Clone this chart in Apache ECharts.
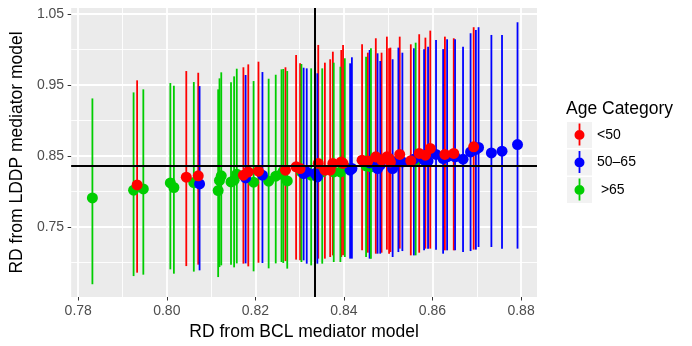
<!DOCTYPE html>
<html>
<head>
<meta charset="utf-8">
<script src="https://cdn.jsdelivr.net/npm/echarts@6/dist/echarts.min.js"></script>
<style>
  html, body { margin: 0; padding: 0; background: #fff; }
  #chart { width: 692px; height: 346px; }
</style>
</head>
<body>
<div id="chart"></div>
<script>
// rows are [x, y, lower, upper]
var under50 = [
    [0.7933, 0.8090, 0.6853, 0.9565], [0.8044, 0.8199, 0.6946, 0.9696],
    [0.8071, 0.8218, 0.6966, 0.9672], [0.8173, 0.8227, 0.6980, 0.9749],
    [0.8184, 0.8274, 0.6942, 0.9790], [0.8207, 0.8284, 0.6993, 0.9828],
    [0.8268, 0.8298, 0.7017, 0.9749], [0.8292, 0.8345, 0.7037, 0.9922],
    [0.8301, 0.8322, 0.7027, 0.9805], [0.8342, 0.8393, 0.7051, 1.0064],
    [0.8357, 0.8298, 0.7051, 0.9814], [0.8369, 0.8298, 0.7074, 0.9862],
    [0.8375, 0.8393, 0.7097, 0.9969], [0.8394, 0.8415, 0.7074, 0.9993],
    [0.8398, 0.8393, 0.7097, 1.0064], [0.8441, 0.8439, 0.7168, 1.0073],
    [0.8454, 0.8427, 0.7135, 0.9955], [0.8472, 0.8486, 0.7121, 1.0158],
    [0.8485, 0.8439, 0.7135, 0.9955], [0.8497, 0.8486, 0.7178, 1.0181],
    [0.8502, 0.8463, 0.7121, 1.0017], [0.8505, 0.8415, 0.7144, 1.0026],
    [0.8526, 0.8520, 0.7192, 1.0181], [0.8551, 0.8431, 0.7097, 1.0073],
    [0.8570, 0.8534, 0.7135, 1.0215], [0.8584, 0.8510, 0.7192, 1.0167],
    [0.8595, 0.8605, 0.7192, 1.0266], [0.8628, 0.8520, 0.7168, 1.0181],
    [0.8648, 0.8534, 0.7168, 1.0158], [0.8693, 0.8627, 0.7178, 1.0314]
];
var from50to65 = [
    [0.8074, 0.8105, 0.6886, 0.9484], [0.8178, 0.8189, 0.6984, 0.9640],
    [0.8216, 0.8227, 0.6989, 0.9682], [0.8309, 0.8251, 0.7027, 0.9743],
    [0.8316, 0.8274, 0.6980, 0.9734], [0.8335, 0.8251, 0.7003, 0.9828],
    [0.8340, 0.8203, 0.6980, 0.9664], [0.8414, 0.8298, 0.7051, 0.9805],
    [0.8418, 0.8322, 0.7051, 0.9890], [0.8458, 0.8401, 0.7051, 0.9993],
    [0.8476, 0.8322, 0.7121, 0.9946], [0.8482, 0.8368, 0.7121, 0.9838],
    [0.8510, 0.8322, 0.7074, 0.9862], [0.8523, 0.8439, 0.7144, 1.0026],
    [0.8532, 0.8415, 0.7158, 0.9955], [0.8558, 0.8453, 0.7097, 1.0017],
    [0.8581, 0.8439, 0.7168, 1.0005], [0.8590, 0.8427, 0.7192, 1.0040],
    [0.8608, 0.8520, 0.7178, 1.0134], [0.8624, 0.8463, 0.7121, 1.0005],
    [0.8633, 0.8486, 0.7168, 1.0144], [0.8651, 0.8486, 0.7168, 1.0144],
    [0.8669, 0.8453, 0.7144, 1.0040], [0.8686, 0.8556, 0.7158, 1.0229],
    [0.8698, 0.8590, 0.7178, 1.0275], [0.8704, 0.8618, 0.7215, 1.0314],
    [0.8733, 0.8542, 0.7215, 1.0205], [0.8757, 0.8566, 0.7192, 1.0205],
    [0.8792, 0.8660, 0.7192, 1.0384]
];
var over65 = [
    [0.7832, 0.7907, 0.6690, 0.9310], [0.7925, 0.8016, 0.6805, 0.9395],
    [0.7947, 0.8034, 0.6825, 0.9438], [0.8008, 0.8119, 0.6900, 0.9527],
    [0.8016, 0.8054, 0.6839, 0.9489], [0.8061, 0.8124, 0.6868, 0.9541],
    [0.8116, 0.8011, 0.6791, 0.9438], [0.8119, 0.8153, 0.6932, 0.9593],
    [0.8123, 0.8218, 0.6956, 0.9678], [0.8145, 0.8133, 0.6966, 0.9537],
    [0.8152, 0.8157, 0.6928, 0.9621], [0.8158, 0.8242, 0.6984, 0.9729],
    [0.8196, 0.8129, 0.6872, 0.9555], [0.8230, 0.8143, 0.6914, 0.9588],
    [0.8246, 0.8213, 0.6984, 0.9644], [0.8259, 0.8242, 0.7003, 0.9720],
    [0.8263, 0.8284, 0.6990, 0.9725], [0.8272, 0.8147, 0.6910, 0.9696],
    [0.8304, 0.8274, 0.7003, 0.9795], [0.8326, 0.8227, 0.6956, 0.9734],
    [0.8351, 0.8274, 0.6980, 0.9734], [0.8377, 0.8274, 0.7003, 0.9814],
    [0.8392, 0.8274, 0.7003, 0.9757], [0.8402, 0.8345, 0.7074, 0.9876],
    [0.8450, 0.8359, 0.7074, 0.9899], [0.8461, 0.8345, 0.7051, 1.0017],
    [0.8562, 0.8439, 0.7097, 1.0096]
];

var groupNames = ['<50', '50–65', ' >65'];
var groupColors = ['#FF0000', '#0000FF', '#00CD00'];
var groupData = [under50, from50to65, over65];

var xTicks = [0.78, 0.80, 0.82, 0.84, 0.86, 0.88];
var xMinor = [0.79, 0.81, 0.83, 0.85, 0.87];
var yTicks = [0.75, 0.85, 0.95, 1.05];
var yMinor = [0.70, 0.80, 0.90, 1.00];
var refX = 0.8333;
var refY = 0.8360;

var font = 'Liberation Sans, Arial, sans-serif';

var chart = echarts.init(document.getElementById('chart'));

function errorBar(params, api) {
    var top = api.coord([api.value(0), api.value(3)]);
    var bot = api.coord([api.value(0), api.value(2)]);
    return {
        type: 'line',
        shape: { x1: top[0], y1: top[1], x2: bot[0], y2: bot[1] },
        style: { stroke: api.visual('color'), lineWidth: 1.8 }
    };
}

var series = [];
groupData.forEach(function (rows, i) {
    series.push({
        name: groupNames[i] + ' bars',
        type: 'custom',
        renderItem: errorBar,
        data: rows,
        encode: { x: 0, y: [2, 3] },
        itemStyle: { color: groupColors[i] },
        silent: true,
        z: 2
    });
});
// points on top, green first so red ends up above
[2, 1, 0].forEach(function (i) {
    series.push({
        name: groupNames[i],
        type: 'scatter',
        data: groupData[i],
        encode: { x: 0, y: 1 },
        symbolSize: 11,
        itemStyle: { color: groupColors[i], opacity: 1 },
        silent: true,
        z: 3
    });
});
series.push({
    name: 'ref',
    type: 'scatter',
    data: [],
    z: 5,
    markLine: {
        symbol: 'none',
        silent: true,
        animation: false,
        precision: 4,
        label: { show: false },
        lineStyle: { color: '#000', width: 2, type: 'solid' },
        data: [{ yAxis: refY }, { xAxis: refX }]
    }
});

var keyIcon = 'path://M0 0L0.01 0Z M25 26L24.99 26Z M11.6 1.6H13.4V23.4H11.6Z M12.5 8A5 5 0 1 1 12.49 8Z';

chart.setOption({
    animation: false,
    textStyle: { fontFamily: font },
    title: {
        text: 'Age Category',
        left: 566, top: 100, padding: 0,
        textStyle: { fontSize: 17.5, fontWeight: 'normal', color: '#000', fontFamily: font }
    },
    legend: {
        data: groupNames,
        orient: 'vertical',
        left: 567, top: 122, padding: 0,
        itemWidth: 25, itemHeight: 26, itemGap: 1.5,
        icon: keyIcon,
        selectedMode: false,
        textStyle: { fontSize: 14, color: '#000', fontFamily: font }
    },
    graphic: [0, 1, 2].map(function (k) {
        return {
            type: 'rect', left: 567, top: 122 + k * 27.5, z: -1,
            shape: { width: 25, height: 26 },
            style: { fill: '#F2F2F2' }
        };
    }),
    grid: {
        left: 66, right: 155, top: 8, bottom: 49,
        show: true, backgroundColor: '#EBEBEB', borderWidth: 0
    },
    xAxis: [{
        type: 'value', min: 0.7784, max: 0.8836,
        name: 'RD from BCL mediator model', nameLocation: 'middle', nameGap: 22,
        nameTextStyle: { fontSize: 17.5, color: '#000', fontFamily: font },
        axisLine: { show: false },
        axisTick: { show: true, length: 3.5, customValues: xTicks, lineStyle: { color: '#333', width: 1 } },
        axisLabel: {
            customValues: xTicks, fontSize: 14, color: '#4D4D4D', margin: 7,
            formatter: function (v) { return v.toFixed(2); }
        },
        splitLine: { show: true, lineStyle: { color: '#fff', width: 1.8 } }
    }, {
        type: 'value', min: 0.7784, max: 0.8836, position: 'bottom',
        axisLine: { show: false },
        axisTick: { show: false, customValues: xMinor },
        axisLabel: { show: false },
        splitLine: { show: true, lineStyle: { color: '#fff', width: 0.9 } }
    }],
    yAxis: [{
        type: 'value', min: 0.651, max: 1.0585,
        name: 'RD from LDDP mediator model', nameLocation: 'middle', nameGap: 44,
        nameTextStyle: { fontSize: 17.5, color: '#000', fontFamily: font },
        axisLine: { show: false },
        axisTick: { show: true, length: 3.5, customValues: yTicks, lineStyle: { color: '#333', width: 1 } },
        axisLabel: {
            customValues: yTicks, fontSize: 14, color: '#4D4D4D', margin: 7,
            formatter: function (v) { return v.toFixed(2); }
        },
        splitLine: { show: true, lineStyle: { color: '#fff', width: 1.8 } }
    }, {
        type: 'value', min: 0.651, max: 1.0585, position: 'left',
        axisLine: { show: false },
        axisTick: { show: false, customValues: yMinor },
        axisLabel: { show: false },
        splitLine: { show: true, lineStyle: { color: '#fff', width: 0.9 } }
    }],
    series: series
});

window.addEventListener('resize', function () { chart.resize(); });
</script>
</body>
</html>
